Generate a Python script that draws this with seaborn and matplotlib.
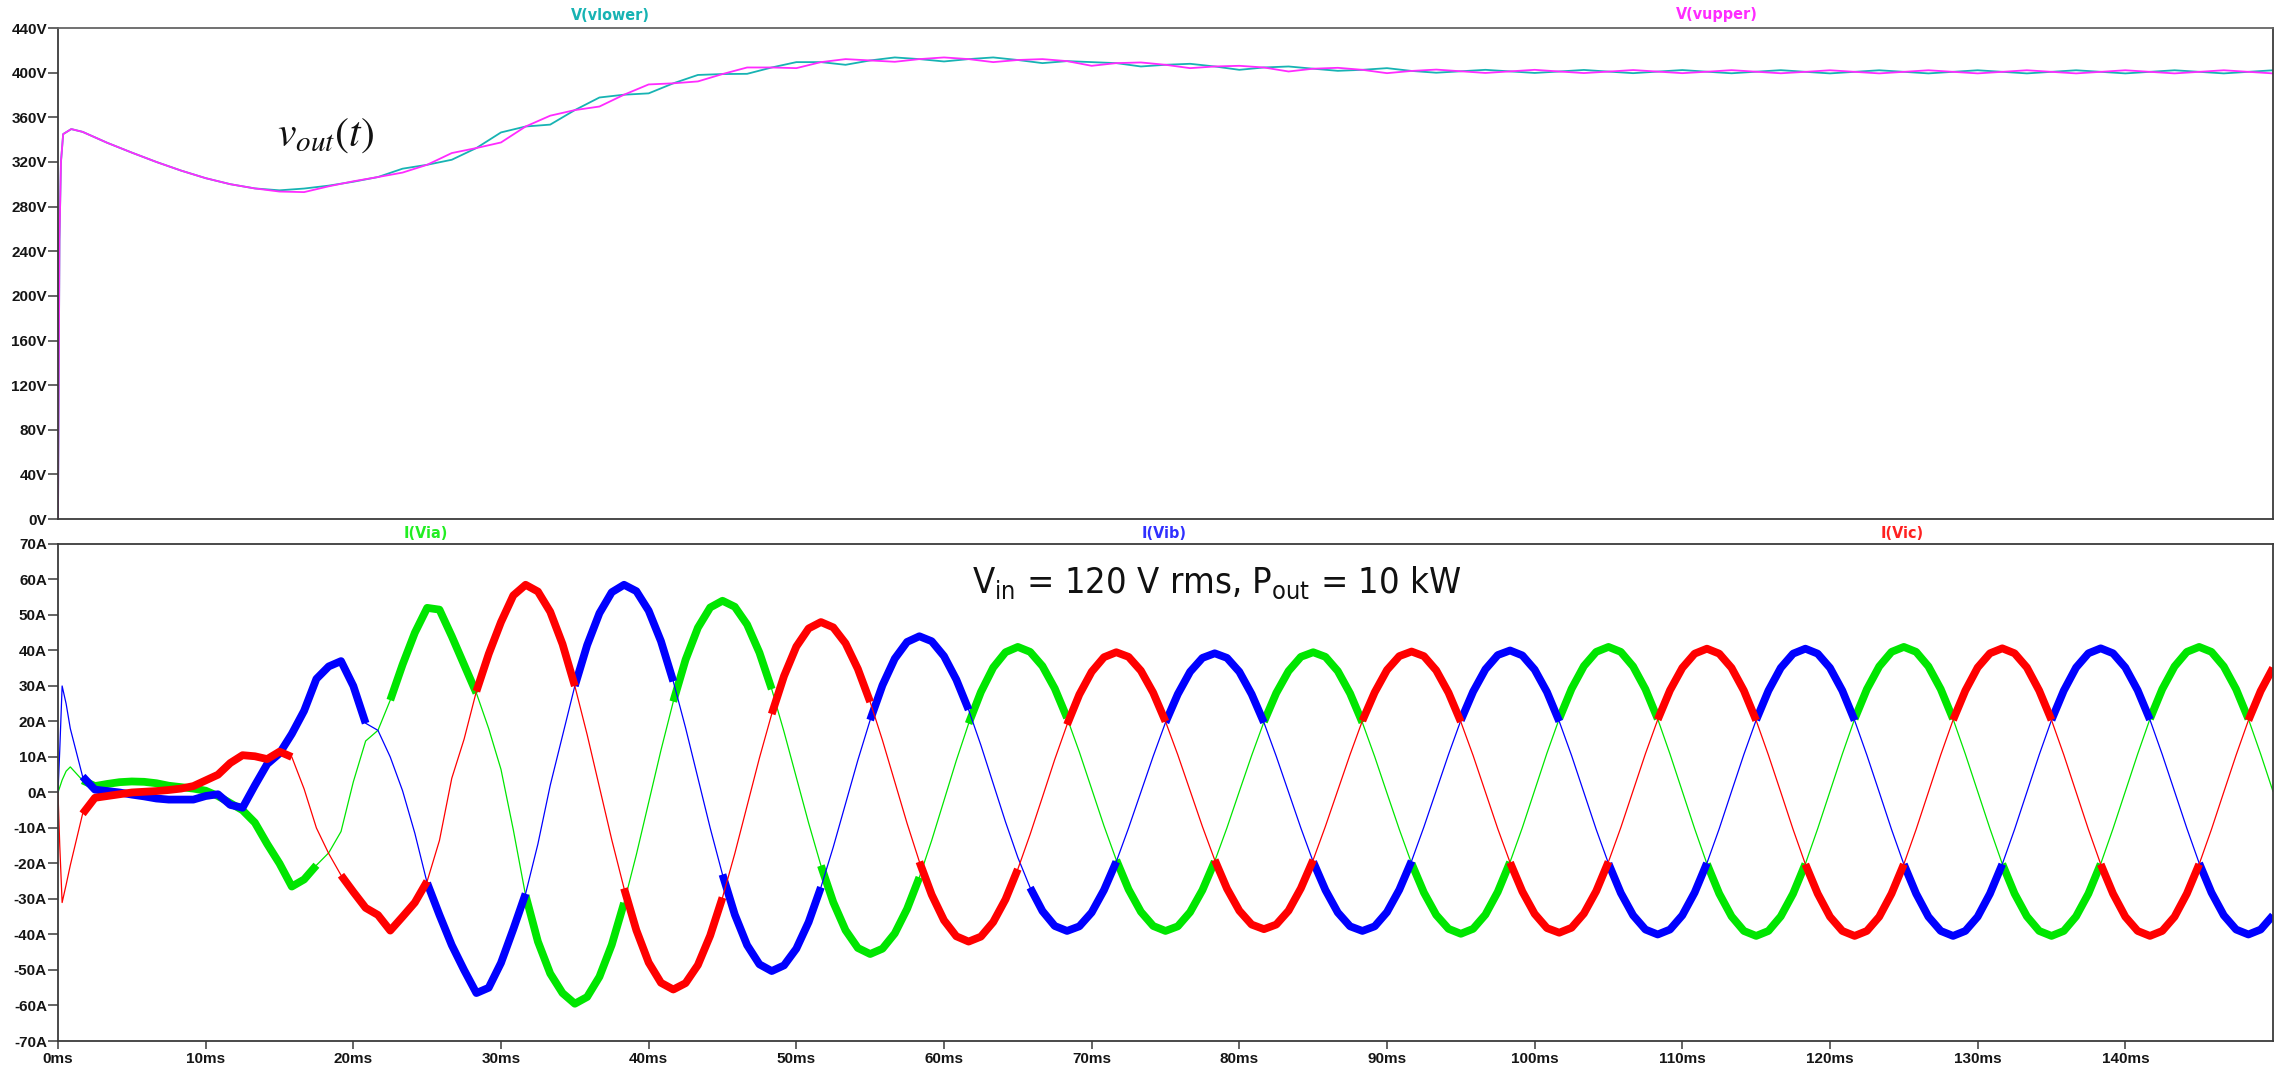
import numpy as np
import pandas as pd
import matplotlib
matplotlib.use("Agg")
import matplotlib.pyplot as plt
import seaborn as sns

# ---- output voltages (V), sampled every 5/3 ms after a few start-up points ----
t_v_start = [0.0, 0.1, 0.2, 0.35, 0.9]
v_lower = [0.0, 250.0, 320.0, 345.0, 349.5,
           347.0, 337.2, 328.4, 320.0, 312.3, 305.5, 300.1, 296.3, 294.6, 296.2,
           298.8, 302.3, 306.5, 314.0, 317.5, 322.0, 332.5, 346.5, 351.8, 353.5,
           366.5, 377.8, 380.3, 381.5, 390.5, 398.0, 398.8, 399.0, 404.7, 409.5,
           409.5, 407.1, 411.0, 413.7, 412.2, 410.1, 412.2, 413.7, 411.4, 408.6,
           410.4, 409.5, 408.6, 405.6, 407.1, 408.0, 405.6, 402.6, 404.7, 405.6,
           403.6, 401.7, 402.6, 404.1, 401.6, 400.0, 401.3, 402.6, 401.2, 399.8,
           401.1, 402.5, 401.0, 399.6, 401.0, 402.4, 400.9, 399.5, 400.9, 402.3,
           400.8, 399.4, 400.8, 402.2, 400.8, 399.4, 400.8, 402.2, 400.8, 399.4,
           400.8, 402.2, 400.8, 399.4, 400.8, 402.2, 400.8, 399.4, 400.8, 402.2]
v_upper = [0.0, 250.0, 320.0, 345.0, 349.5,
           347.0, 337.2, 328.4, 320.0, 312.3, 305.5, 300.1, 296.3, 293.5, 293.0,
           298.2, 302.7, 306.5, 310.5, 317.5, 328.0, 332.5, 337.5, 351.8, 361.5,
           366.5, 369.7, 380.3, 389.5, 390.5, 392.2, 398.8, 404.7, 404.7, 404.1,
           409.5, 412.2, 411.0, 409.8, 412.2, 413.7, 412.2, 409.5, 411.4, 412.2,
           410.4, 406.2, 408.6, 409.2, 407.1, 404.1, 405.6, 406.2, 404.7, 401.1,
           403.6, 404.4, 402.6, 399.6, 401.6, 402.8, 401.3, 399.8, 401.2, 402.6,
           401.1, 399.7, 401.0, 402.4, 401.0, 399.6, 400.9, 402.3, 400.9, 399.5,
           400.8, 402.2, 400.8, 399.4, 400.8, 402.2, 400.8, 399.4, 400.8, 402.2,
           400.8, 399.4, 400.8, 402.2, 400.8, 399.4, 400.8, 402.2, 400.8, 399.4]

# ---- phase currents (A), sampled every 5/6 ms after a few start-up points ----
t_i_start = [0.0, 0.12, 0.28, 0.55]
i_a = [0.0, 1.5, 3.5, 6.0,
       7.2, 3.4, 1.8, 2.4, 2.9, 3.1, 3.0, 2.6, 1.9, 1.5,
       1.1, 0.5, -1.0, -3.0, -5.0, -8.5, -14.5, -20.0, -26.5, -24.5,
       -20.5, -17.0, -11.0, 3.0, 14.5, 17.5, 26.0, 36.0, 45.0, 52.0,
       51.5, 44.0, 36.0, 28.0, 18.0, 6.5, -10.5, -29.0, -42.0, -51.0,
       -56.5, -59.5,
       -57.6, -51.9, -42.9, -31.1, -17.5, -2.8, 11.9, 25.6, 37.4, 46.4, 52.1, 54.0,
       52.3, 47.3, 39.4, 29.1, 17.1, 4.3, -8.6, -20.6, -30.9, -38.8, -43.8, -45.5,
       -44.0, -39.7, -32.8, -23.9, -13.5, -2.3, 9.0, 19.4, 28.3, 35.2, 39.5, 41.0,
       39.6, 35.6, 29.3, 21.0, 11.4, 1.0, -9.4, -19.0, -27.3, -33.6, -37.6, -39.0,
       -37.7, -33.7, -27.5, -19.4, -9.9, 0.3, 10.4, 19.9, 28.0, 34.2, 38.2, 39.5,
       38.2, 34.2, 27.9, 19.7, 10.1, -0.2, -10.4, -20.0, -28.2, -34.5, -38.4, -39.8,
       -38.4, -34.4, -28.0, -19.6, -9.9, 0.6, 11.1, 20.8, 29.2, 35.6, 39.6, 41.0,
       39.6, 35.5, 29.1, 20.7, 10.8, 0.3, -10.2, -20.1, -28.5, -34.9, -39.0, -40.4,
       -39.0, -34.9, -28.5, -20.1, -10.2, 0.3, 10.8, 20.7, 29.1, 35.5, 39.6, 41.0,
       39.6, 35.5, 29.1, 20.7, 10.8, 0.3, -10.2, -20.1, -28.5, -34.9, -39.0, -40.4,
       -39.0, -34.9, -28.5, -20.1, -10.2, 0.3, 10.8, 20.7, 29.1, 35.5, 39.6, 41.0,
       39.6, 35.5, 29.1, 20.7, 10.8, 0.3]
i_b = [0.0, 12.0, 30.0, 25.0,
       18.0, 4.5, 0.8, 0.4, 0.0, -0.6, -1.1, -1.7, -2.0, -2.0,
       -2.0, -1.0, -0.5, -3.5, -4.3, 2.0, 8.0, 11.0, 16.5, 23.0,
       32.0, 35.5, 37.0, 30.0, 19.5, 17.5, 10.0, 0.5, -11.5, -25.5,
       -34.5, -43.0, -50.0, -56.5, -55.0, -48.0, -38.5, -28.5, -14.5, 2.0,
       16.0, 30.0, 41.5, 50.5, 56.4, 58.5,
       56.7, 51.2, 42.6, 31.3, 18.2, 4.1, -10.0, -23.1, -34.4, -43.0, -48.4, -50.3,
       -48.7, -44.0, -36.5, -26.7, -15.4, -3.2, 9.1, 20.4, 30.2, 37.7, 42.4, 44.0,
       42.6, 38.4, 31.8, 23.3, 13.3, 2.5, -8.3, -18.3, -26.8, -33.4, -37.6, -39.0,
       -37.7, -33.8, -27.5, -19.5, -10.0, 0.1, 10.2, 19.7, 27.7, 34.0, 37.9, 39.2,
       37.9, 34.0, 27.7, 19.7, 10.2, 0.1, -10.0, -19.5, -27.5, -33.8, -37.7, -39.0,
       -37.7, -33.7, -27.4, -19.3, -9.7, 0.5, 10.7, 20.3, 28.4, 34.7, 38.7, 40.0,
       38.6, 34.6, 28.3, 20.0, 10.4, 0.0, -10.4, -20.0, -28.3, -34.6, -38.6, -40.0,
       -38.6, -34.6, -28.2, -19.9, -10.2, 0.3, 10.7, 20.4, 28.7, 35.1, 39.1, 40.5,
       39.1, 35.1, 28.7, 20.3, 10.5, 0.1, -10.4, -20.2, -28.5, -35.0, -39.0, -40.4,
       -39.0, -35.0, -28.5, -20.2, -10.4, 0.1, 10.6, 20.4, 28.7, 35.2, 39.2, 40.6,
       39.2, 35.2, 28.8, 20.5, 10.7, 0.3, -10.1, -19.9, -28.2, -34.6, -38.6, -40.0,
       -38.6, -34.6]
i_c = [0.0, -15.0, -31.0, -26.0,
       -20.5, -6.0, -1.5, -1.0, -0.5, 0.0, 0.2, 0.4, 0.7, 1.1,
       1.8, 3.4, 5.0, 8.3, 10.5, 10.2, 9.4, 11.5, 10.0, 1.0,
       -10.0, -17.2, -23.3, -28.0, -32.5, -34.5, -38.9, -35.0, -31.0, -25.0,
       -13.5, 4.0, 15.0, 28.5, 39.0, 48.0, 55.5, 58.5,
       56.6, 50.9, 41.8, 30.0, 16.3, 1.5, -13.3, -27.0, -38.8, -47.9, -53.6, -55.5,
       -53.7, -48.6, -40.3, -29.6, -17.2, -3.8, 9.7, 22.1, 32.8, 41.1, 46.2, 48.0,
       46.5, 42.0, 34.8, 25.5, 14.7, 3.0, -8.7, -19.5, -28.8, -36.0, -40.5, -42.0,
       -40.6, -36.5, -30.1, -21.6, -11.8, -1.3, 9.3, 19.1, 27.6, 34.0, 38.1, 39.5,
       38.2, 34.3, 28.1, 20.0, 10.6, 0.5, -9.6, -19.0, -27.1, -33.3, -37.2, -38.5,
       -37.2, -33.3, -27.0, -19.0, -9.5, 0.6, 10.7, 20.2, 28.2, 34.5, 38.4, 39.7,
       38.4, 34.4, 28.1, 19.9, 10.4, 0.1, -10.2, -19.7, -27.9, -34.2, -38.2, -39.5,
       -38.1, -34.1, -27.8, -19.5, -9.9, 0.5, 10.9, 20.5, 28.8, 35.1, 39.1, 40.5,
       39.1, 35.1, 28.7, 20.3, 10.5, 0.1, -10.4, -20.2, -28.5, -35.0, -39.0, -40.4,
       -39.0, -35.0, -28.5, -20.2, -10.4, 0.1, 10.6, 20.4, 28.7, 35.2, 39.2, 40.6,
       39.2, 35.2, 28.7, 20.4, 10.6, 0.1, -10.4, -20.2, -28.5, -35.0, -39.0, -40.4,
       -39.0, -35.0, -28.5, -20.2, -10.4, 0.1, 10.5, 20.3, 28.6, 35.1]

v_ticks = list(range(0, 441, 40))
i_ticks = list(range(-70, 71, 10))
t_ticks = list(range(0, 141, 10))

t_v = np.concatenate([t_v_start, np.arange(1, 91) * 5 / 3])
t_i = np.concatenate([t_i_start, np.arange(1, 181) * 5 / 6])

sns.set_style("white")
plt.rcParams["font.family"] = ["Liberation Sans", "DejaVu Sans"]
plt.rcParams["mathtext.fontset"] = "custom"
plt.rcParams["mathtext.rm"] = "DejaVu Sans:stretch=condensed"
narrow = ["DejaVu Sans"]

fig = plt.figure(figsize=(22.77, 10.68), dpi=100)
ax1 = fig.add_axes([0.02547, 0.5140, 0.97277, 0.4597])
ax2 = fig.add_axes([0.02547, 0.02528, 0.97277, 0.4654])

# top pane: output voltages
vdf = pd.DataFrame({"t": t_v, "lower": v_lower, "upper": v_upper})
sns.lineplot(data=vdf, x="t", y="lower", color="#17b3b3", lw=1.3, ax=ax1, sort=False)
sns.lineplot(data=vdf, x="t", y="upper", color="#ff2bff", lw=1.3, ax=ax1, sort=False)

# bottom pane: phase currents, thick where the switching ripple is large
for vals, col in [(i_a, "#00e600"), (i_b, "#0000ff"), (i_c, "#ff0000")]:
    y = np.array(vals)
    idf = pd.DataFrame({"t": t_i, "i": y})
    sns.lineplot(data=idf, x="t", y="i", color=col, lw=0.9, ax=ax2, sort=False)
    thick = ((np.abs(y) >= 19) & (t_i >= 1.0)) | ((t_i >= 1.5) & (t_i <= 16))
    idf["run"] = np.cumsum(~thick)
    sns.lineplot(data=idf[thick], x="t", y="i", units="run", estimator=None,
                 color=col, lw=5.6, ax=ax2, sort=False, solid_capstyle="butt")

for ax in (ax1, ax2):
    ax.set_xlim(0, 150)
    ax.set_xlabel("")
    ax.set_ylabel("")
    for s in ax.spines.values():
        s.set_visible(True)
        s.set_color("#3a3a3a")
        s.set_linewidth(1.3)
    ax.tick_params(axis="y", direction="out", length=7, width=1.1, color="#3a3a3a",
                   pad=1, labelsize=11, labelcolor="#151515", left=True)
ax1.spines["top"].set_color("#666666")

ax1.set_ylim(0, 440)
ax1.set_yticks(v_ticks)
ax1.set_yticklabels([f"{v}V" for v in v_ticks], fontweight="bold")
ax1.tick_params(axis="x", bottom=False, labelbottom=False)

ax2.set_ylim(-70, 70)
ax2.set_yticks(i_ticks)
ax2.set_yticklabels([f"{v}A" for v in i_ticks], fontweight="bold")
ax2.set_xticks(t_ticks)
ax2.set_xticklabels([f"{v}ms" for v in t_ticks], fontweight="bold")
ax2.tick_params(axis="x", direction="out", length=6, width=1.1, color="#3a3a3a",
                pad=2, labelsize=11, labelcolor="#151515", bottom=True)

# trace names above each pane
W, H = 2277, 1068
for name, col, px, py in [("V(vlower)", "#17b3b3", 610, 15), ("V(vupper)", "#ff2bff", 1717, 15),
                          ("I(Via)", "#22ee22", 426, 533), ("I(Vib)", "#3030ff", 1164, 533),
                          ("I(Vic)", "#ff2020", 1902, 533)]:
    fig.text(px / W, 1 - py / H, name, color=col, fontsize=11.5, family=narrow,
             fontstretch="condensed", fontweight="bold", ha="center", va="center")

ax1.text(14.8, 335, r"$v_{out}(t)$", fontsize=30, math_fontfamily="stix",
         va="baseline", ha="left", color="#111111")
ax2.text(61.9, 56.2, r"V$_{\mathrm{in}}$ = 120 V rms, P$_{\mathrm{out}}$ = 10 kW",
         fontsize=26, family=narrow, fontstretch="condensed",
         va="baseline", ha="left", color="#111111")

fig.savefig("out.png", dpi=100)
